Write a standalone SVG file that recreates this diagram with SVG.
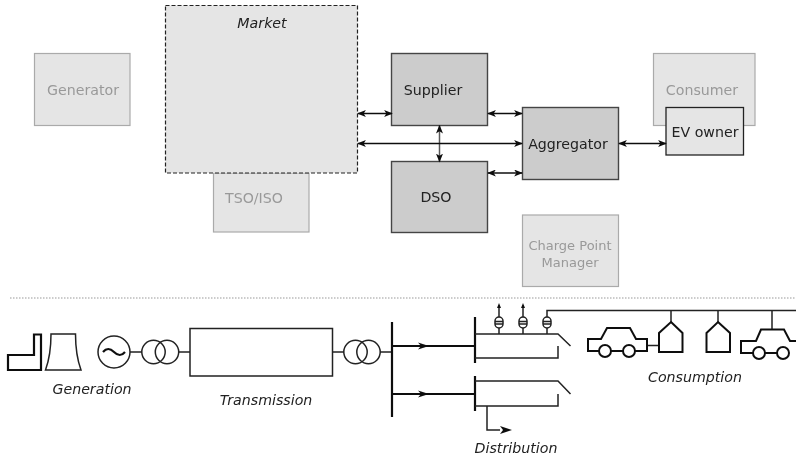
<svg xmlns="http://www.w3.org/2000/svg" width="796" height="457" viewBox="0 0 796 457">
<style>
text{font-family:"DejaVu Sans",sans-serif;font-size:14.2px;text-anchor:middle;fill:#222}
.i{font-style:italic}
.faded rect{fill:#e5e5e5;stroke:#aaa;stroke-width:1.2}
.faded text{fill:#999}
.strong rect{fill:#ccc;stroke:#444;stroke-width:1.4}
.c{fill:none;stroke:#111;stroke-width:1.5;marker-start:url(#a);marker-end:url(#a)}
.g{fill:none;stroke:#222;stroke-width:1.5}
.h{fill:none;stroke:#111;stroke-width:2}
.b{fill:none;stroke:#111;stroke-width:2.2}
.f{fill:#111;stroke:none}
</style>
<defs>
<marker id="a" viewBox="0 0 10 8" refX="9" refY="4" markerWidth="9" markerHeight="7" orient="auto-start-reverse" markerUnits="userSpaceOnUse"><path d="M0 0L10 4L0 8L2.500 4Z" fill="#111"/></marker>
<filter id="soft" x="0" y="0" width="100%" height="100%"><feGaussianBlur stdDeviation="0.4"/></filter>
</defs>
<g filter="url(#soft)">
<rect x="0" y="0" width="796" height="457" fill="#fff"/>
<g id="generator" class="faded"><rect x="34.500" y="53.500" width="95.500" height="72"/><text x="83" y="95">Generator</text></g>
<g id="tso" class="faded"><rect x="213.500" y="173" width="95.500" height="59"/><text x="254" y="203">TSO/ISO</text></g>
<g id="market"><rect x="165.500" y="5.500" width="192" height="167.500" fill="#e5e5e5" stroke="#222" stroke-width="1.200" stroke-dasharray="4 2"/><text class="i" x="262" y="28">Market</text></g>
<g id="supplier" class="strong"><rect x="391.500" y="53.500" width="96" height="72"/><text x="433" y="95">Supplier</text></g>
<g id="dso" class="strong"><rect x="391.500" y="161.500" width="96" height="71"/><text x="436" y="202">DSO</text></g>
<g id="aggregator" class="strong"><rect x="522.500" y="107.500" width="96" height="72"/><text x="568" y="149">Aggregator</text></g>
<g id="consumer" class="faded"><rect x="653.500" y="53.500" width="101.500" height="72"/><text x="702" y="95">Consumer</text></g>
<g id="ev-owner"><rect x="666" y="107.500" width="77.500" height="47.500" fill="#e5e5e5" stroke="#222" stroke-width="1.300"/><text x="705" y="137">EV owner</text></g>
<g id="charge-point" class="faded"><rect x="522.500" y="215" width="96" height="71.500"/><text x="570" y="250" style="font-size:13px">Charge Point</text><text x="570" y="267" style="font-size:13px">Manager</text></g>
<g id="connectors">
<path class="c" d="M358 113.500H392"/>
<path class="c" d="M488 113.500H522"/>
<path class="c" d="M358 143.500H522"/>
<path class="c" d="M488 173H522"/>
<path class="c" d="M619 143.500H666"/>
<path class="c" d="M439.500 125.500V161.500" stroke-opacity=".7"/>
</g>
<path id="divider" d="M10 298H796" stroke="#999" stroke-width="1.200" stroke-dasharray="1.500 1.500" fill="none"/>
<g id="generation">
<path class="b" d="M8 355H34V334.500H41V370H8Z"/>
<path class="g" d="M51 334H75.500Q75.500 355 81 370H45.500Q51 355 51 334Z" stroke-width="1.500"/>
<circle class="g" cx="114" cy="352" r="16"/>
<path class="b" d="M103 352Q108 346 114 352T125 352"/>
<text class="i" x="92" y="394">Generation</text>
</g>
<g id="transmission">
<path class="g" d="M130 352H142M178.500 352H190M332.500 352H344M380 352H392"/>
<circle class="g" cx="153.500" cy="352" r="11.700"/><circle class="g" cx="167" cy="352" r="11.700"/>
<rect class="g" x="190" y="328.500" width="142.500" height="47.500"/>
<circle class="g" cx="355.500" cy="352" r="11.700"/><circle class="g" cx="368.500" cy="352" r="11.700"/>
<text class="i" x="266" y="405">Transmission</text>
</g>
<g id="distribution">
<path class="b" d="M392 322V417M475 317V363M475 376V411M392 346H475M392 394H475"/>
<path class="f" d="M418 342.500L429 346L418 349.500L421 346Z M418 390.500L429 394L418 397.500L421 394Z"/>
<path class="g" d="M475 334H558L570.500 346M558 346V358H475M475 381H558L570.500 394M558 394V406H475"/>
<path class="g" d="M487 406V430H500"/>
<path class="f" d="M500 426L512 430L500 434L503 430Z"/>
<path class="g" d="M499 334V328M499 317V305M523 334V328M523 317V305M547 334V328M547 317V310.500H796"/>
<path class="f" d="M499 303L501 308H497ZM523 303L525 308H521Z"/>
<g class="g">
<rect x="495" y="317" width="8" height="11" rx="4"/><path d="M495 321.500H503M495 324H503"/>
<rect x="519" y="317" width="8" height="11" rx="4"/><path d="M519 321.500H527M519 324H527"/>
<rect x="543" y="317" width="8" height="11" rx="4"/><path d="M543 321.500H551M543 324H551"/>
</g>
<text class="i" x="516" y="453">Distribution</text>
</g>
<g id="consumption">
<path class="g" d="M671 310.500V322M718 310.500V322M772 310.500V329M647 345.500H659"/>
<path class="h" d="M671 322L682.500 333V352H659V333ZM718 322L730 333V352H706.500V333Z"/>
<path class="h" d="M599 351H588V339H601L607 328H630L636 339H647V351H635M611 351H623"/>
<circle class="h" cx="605" cy="351" r="6"/><circle class="h" cx="629" cy="351" r="6"/>
<path class="h" d="M753 353H741V341H756L761 329.500H784L790 341H796M765 353H777"/>
<circle class="h" cx="759" cy="353" r="6"/><circle class="h" cx="783" cy="353" r="6"/>
<text class="i" x="695" y="382">Consumption</text>
</g>
</g>
</svg>
